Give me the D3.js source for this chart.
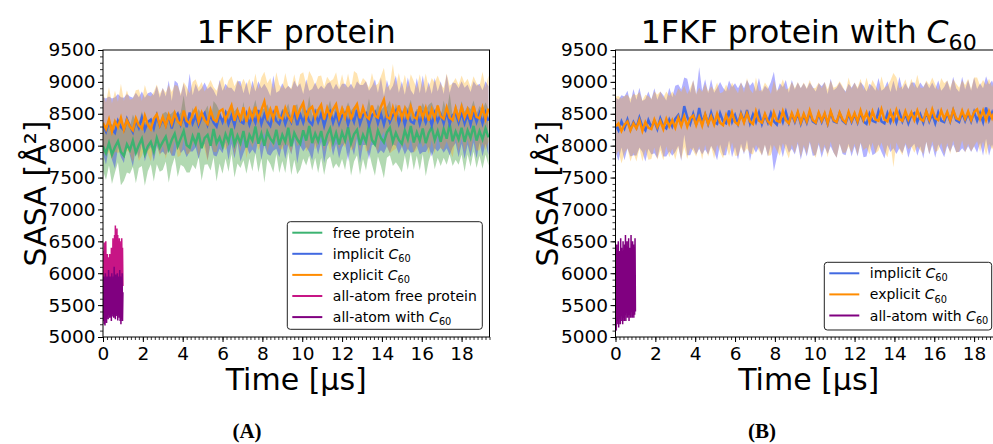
<!DOCTYPE html>
<html><head><meta charset="utf-8">
<script src="https://cdn.jsdelivr.net/npm/d3@7"></script>
<style>
body{margin:0;background:#fff}
svg{display:block}
</style>
</head><body>
<svg id="c" width="993" height="444"></svg>
<script>
// ---------- DATA ----------
const timeStep = 0.15;      // µs between coarse-grained frames
const aaTimeStep = 0.02;    // µs between all-atom frames
const xTicks = [0,2,4,6,8,10,12,14,16,18];
const yTicks = [5000,5500,6000,6500,7000,7500,8000,8500,9000,9500];

// Panel A : free protein
const freeMeanA = [7990,7880,8040,7860,7980,8070,7900,7840,8020,7930,8080,7890,8010,8110,7870,7990,8060,7910,8120,7970,
8060,8140,7950,8090,8190,7990,8110,8230,8010,7970,8150,8030,8200,7960,8120,8170,8000,8260,8040,8130,
7990,8180,8060,8270,8020,8160,8040,8230,7970,8170,8080,8300,8030,8190,8000,8220,8110,8050,8250,8010,
8170,8060,8280,7990,8200,8100,8030,8240,8080,8310,8040,8190,8070,8230,8000,8170,8270,8050,8200,8020,
8210,8080,8290,8040,8180,8250,8010,8170,8060,8320,8090,8020,8240,8120,8050,8210,8280,8060,8200,8090,
8030,8240,8100,8310,8050,8210,8080,8270,8040,8200,8290,8090,8230,8060,8260,8110,8340,8070,8220,8100,
8280,8060,8240,8120,8310,8080,8230,8100,8270,8130];
const freeStdA = [380,420,350,460,400,330,520,390,440,370,410,480,360,430,500,390,350,470,410,380,
440,390,530,420,370,480,410,560,430,390,450,400,380,510,420,460,390,440,600,410,
430,380,470,400,520,440,390,460,410,370,480,420,450,390,580,430,400,470,380,440,
410,490,380,450,420,550,400,440,390,470,430,380,500,420,460,390,440,410,480,370,
420,460,390,510,430,400,470,380,450,420,390,490,410,440,560,400,430,380,460,420,
450,390,480,410,430,370,470,400,520,440,390,460,420,380,450,410,480,390,440,400,
420,470,380,450,400,430,390,460,410,440];
const implicitMeanA = [8320,8220,8370,8260,8200,8390,8290,8240,8420,8310,8210,8400,8280,8440,8250,8370,8410,8270,8470,8310,
8410,8310,8480,8270,8430,8500,8330,8460,8290,8520,8350,8470,8320,8440,8510,8330,8480,8360,8300,8490,
8370,8510,8340,8470,8320,8530,8380,8350,8500,8330,8480,8360,8560,8340,8490,8380,8310,8510,8390,8340,
8500,8340,8480,8370,8550,8320,8490,8360,8510,8380,8330,8520,8370,8500,8310,8480,8540,8360,8500,8340,
8470,8510,8330,8490,8370,8560,8340,8480,8510,8320,8470,8530,8350,8500,8330,8510,8370,8480,8550,8350,
8500,8330,8510,8380,8350,8530,8340,8500,8360,8490,8320,8510,8380,8490,8350,8540,8340,8480,8510,8360,
8520,8350,8490,8330,8530,8370,8510,8350,8520,8390];
const implicitStdA = [440,520,400,480,560,420,470,510,390,460,540,430,480,410,500,450,430,520,470,440,
500,460,540,430,590,480,450,520,470,610,440,500,530,460,480,560,450,510,470,540,
490,460,570,440,520,480,630,470,500,460,540,490,450,560,480,510,470,590,440,520,
480,550,460,510,470,600,490,450,530,480,560,470,510,440,580,490,460,520,470,540,
500,460,580,480,520,450,610,470,500,540,460,510,480,570,450,520,490,460,550,480,
510,470,560,490,450,530,480,600,460,510,490,550,470,520,460,580,490,510,470,540,
490,560,470,510,480,570,460,520,490,540];
const explicitMeanA = [8360,8260,8410,8220,8380,8290,8440,8250,8400,8300,8240,8430,8320,8270,8470,8330,8260,8420,8490,8320,
8450,8310,8480,8340,8510,8380,8330,8550,8390,8350,8500,8580,8370,8520,8400,8340,8560,8410,8380,8540,
8570,8400,8520,8630,8390,8550,8420,8600,8370,8560,8430,8610,8410,8560,8690,8440,8570,8420,8620,8450,
8420,8590,8460,8390,8630,8450,8580,8670,8430,8570,8610,8440,8560,8640,8410,8590,8450,8570,8650,8430,
8580,8440,8620,8410,8570,8650,8430,8600,8460,8420,8630,8470,8440,8610,8720,8450,8420,8600,8440,8630,
8430,8580,8410,8610,8450,8420,8620,8440,8590,8390,8570,8430,8630,8460,8420,8600,8440,8400,8590,8430,
8610,8440,8570,8410,8620,8450,8430,8600,8420,8580];
const explicitStdA = [460,420,510,440,480,400,530,450,470,420,500,440,560,430,480,460,510,420,470,490,
450,520,470,500,440,560,480,450,530,470,500,460,540,480,450,590,470,510,480,450,
520,470,500,460,540,480,510,450,570,490,460,520,480,510,470,540,490,460,530,500,
480,550,470,510,490,460,540,480,520,600,470,500,530,460,510,490,560,470,500,480,
540,470,510,490,600,480,520,460,550,490,510,470,530,480,500,460,540,680,490,510,
470,530,490,510,560,480,500,470,540,520,490,560,470,510,480,530,500,580,470,520,
490,540,480,510,470,530,500,560,490,520];
const aaFreeA = [5700,6350,5800,6480,5650,6200,5900,6500,5750,6150,5850,6300,5700,6250,5900,6100,5800,6300,5950,6250,
5700,6400,5850,6200,5900,6550,5800,6450,5950,6600,5850,6750,6000,6500,5800,6700,5950,6600,5850,6450,
5700,6550,5900,6300,5800,6500,5750,6550,5900,6400,5800];
const aaC60A = [5600,5250,5950,5200,5900,5180,6000,5300,5850,5220,5950,5350,5900,5280,6050,5400,5880,5300,5950,5350,
5900,5250,6000,5320,5850,5380,5950,5300,6100,5350,5900,5280,5980,5400,5850,5330,6000,5260,5950,5350,
5900,5300,6050,5250,5950,5200,5900,5320,6000,5250,5700];

// Panel B : protein with C60
const implicitMeanB = [8330,8240,8380,8270,8410,8250,8370,8280,8440,8300,8240,8400,8290,8390,8260,8430,8310,8270,8410,8300,
8420,8480,8320,8620,8450,8340,8500,8330,8590,8360,8490,8340,8520,8370,8340,8510,8380,8350,8550,8370,
8480,8340,8510,8380,8560,8350,8490,8370,8520,8340,8480,8360,8510,8380,8330,8500,8370,8530,8360,8490,
8370,8510,8340,8480,8360,8520,8380,8350,8500,8370,8490,8340,8520,8380,8360,8510,8390,8350,8500,8370,
8490,8360,8520,8380,8340,8500,8390,8370,8540,8380,8350,8510,8370,8490,8360,8520,8380,8500,8350,8480,
8510,8370,8490,8360,8530,8380,8500,8350,8520,8390,8370,8510,8380,8550,8400,8370,8520,8390,8510,8380,
8530,8390,8510,8370,8600,8400,8520,8380,8550,8410];
const implicitStdB = [430,480,410,500,450,420,520,440,470,400,490,450,430,510,460,420,480,440,500,460,
520,480,560,450,600,490,530,470,640,500,550,480,520,460,570,490,530,500,470,550,
500,560,480,520,470,590,510,480,540,500,460,530,490,780,510,480,550,500,470,540,
510,480,560,500,530,470,540,500,480,560,510,470,530,490,550,480,520,500,470,540,
500,530,480,560,510,470,540,490,520,480,550,500,470,530,490,560,500,480,540,510,
480,530,500,560,470,520,490,540,500,470,550,510,480,530,500,470,560,490,520,480,
540,500,470,530,490,560,500,520,480,540];
const explicitMeanB = [8300,8350,8230,8330,8380,8240,8350,8270,8400,8230,8370,8280,8260,8410,8290,8390,8260,8420,8300,8400,
8280,8440,8310,8460,8300,8430,8470,8320,8450,8310,8490,8340,8460,8330,8500,8360,8320,8480,8350,8520,
8370,8330,8490,8360,8510,8380,8340,8540,8390,8360,8500,8380,8330,8520,8390,8370,8540,8400,8350,8510,
8390,8530,8360,8500,8380,8550,8400,8360,8520,8390,8510,8350,8540,8400,8370,8520,8410,8360,8530,8390,
8510,8380,8550,8400,8520,8370,8540,8410,8390,8570,8410,8380,8530,8400,8560,8420,8390,8540,8410,8520,
8400,8550,8420,8390,8540,8410,8570,8430,8400,8550,8420,8530,8390,8560,8430,8410,8550,8420,8540,8400,
8530,8570,8420,8550,8400,8540,8430,8560,8410,8550];
const explicitStdB = [470,430,510,450,420,490,460,520,440,480,430,500,470,440,510,460,490,430,480,450,
500,460,530,480,510,470,550,490,460,530,480,510,470,540,490,460,520,480,510,470,
530,490,510,470,550,500,480,530,470,510,490,540,480,510,470,530,500,480,550,490,
510,470,540,490,520,480,500,550,470,510,490,530,480,510,560,490,520,470,540,500,
480,530,500,470,550,510,490,530,470,520,500,560,490,740,510,480,540,500,470,530,
510,560,490,520,480,540,500,530,470,510,560,490,520,480,540,500,470,530,510,490,
540,500,520,480,550,510,490,530,500,520];
const aaC60B = [5300,6300,5100,6450,5200,6100,5250,6500,5150,6350,5300,6200,5200,6550,5250,6400,5350,6300,5200,6500,
5300,6150,5250,6450,5350,6600,5250,6300,5400,6500,5300,6200,5350,6550,5250,6400,5350,6300,5300,6600,
5400,6350,5300,6500,5350,6450,5300,6400,5350,6550,5400];

const legendLabelsA = ["free protein","implicit C_60","explicit C_60","all-atom free protein","all-atom with C_60"];
const legendLabelsB = ["implicit C_60","explicit C_60","all-atom with C_60"];
const titles = ["1FKF protein","1FKF protein with C_60"];

// ---------- STYLE ----------
const COL = {
  free:"#3cb371", freeBand:"green",
  impl:"#4169e1", implBand:"blue",
  expl:"#ff8c00", explBand:"orange",
  aaFree:"#c71585", aaC60:"#800080"
};
const FONT = "'DejaVu Sans', sans-serif";
const W = 386.5, H = 287;
const svg = d3.select("#c");

function rich(sel, str, fs) {
  const parts = str.split("C_60");
  sel.append("tspan").text(parts[0]);
  if (parts.length > 1) {
    sel.append("tspan").style("font-style","italic").text("C");
    sel.append("tspan").style("font-size", (fs*0.7)+"px").attr("dy", fs*0.22).text("60");
  }
}

function series(vals, step) { return vals.map((v,i)=>({t:i*step, v})); }
function bandSeries(m, s, step) { return m.map((v,i)=>({t:i*step, lo:v-s[i], hi:v+s[i]})); }

function panel(cfg) {
  const g = svg.append("g").attr("transform", `translate(${cfg.x0},50)`);
  const x = d3.scaleLinear().domain([0,19.4]).range([0,W]);
  const y = d3.scaleLinear().domain([5000,9500]).range([H,0]);
  const cid = "clip"+cfg.id;
  g.append("clipPath").attr("id",cid).append("rect").attr("width",W).attr("height",H);
  const pl = g.append("g").attr("clip-path",`url(#${cid})`);
  const area = d3.area().x(d=>x(d.t)).y0(d=>y(d.lo)).y1(d=>y(d.hi));
  const line = d3.line().x(d=>x(d.t)).y(d=>y(d.v));
  cfg.layers.forEach(L=>{
    if (L.type==="band") {
      pl.append("path").datum(bandSeries(L.m,L.s,timeStep)).attr("d",area)
        .attr("fill",L.color).attr("fill-opacity",0.3).attr("stroke","none");
    } else {
      pl.append("path").datum(series(L.v,L.step)).attr("d",line)
        .attr("fill","none").attr("stroke",L.color).attr("stroke-width",L.w);
    }
  });
  // minor ticks
  const yMinor = d3.range(5000,9501,100);
  const xMinor = d3.range(0,19.41,0.2);
  const ym = g.append("g").call(d3.axisLeft(y).tickValues(yMinor).tickSize(3).tickFormat(""));
  const xm = g.append("g").attr("transform",`translate(0,${H})`)
    .call(d3.axisBottom(x).tickValues(xMinor).tickSize(3).tickFormat(""));
  [ym,xm].forEach(a=>{a.select(".domain").remove(); a.selectAll("line").attr("stroke","#000").attr("stroke-width",0.8);});
  const ya = g.append("g").call(d3.axisLeft(y).tickValues(yTicks).tickSize(5).tickPadding(2.5).tickFormat(d3.format("d")));
  const xa = g.append("g").attr("transform",`translate(0,${H})`)
    .call(d3.axisBottom(x).tickValues(xTicks).tickSize(5).tickPadding(4.5).tickFormat(d3.format("d")));
  [ya,xa].forEach(a=>{
    a.select(".domain").remove();
    a.selectAll("line").attr("stroke","#000").attr("stroke-width",1);
    a.selectAll("text").style("font-size","18.5px").style("font-family",FONT).attr("fill","#000");
  });
  g.append("rect").attr("width",W).attr("height",H).attr("fill","none").attr("stroke","#000").attr("stroke-width",1);
  // title
  const tt = g.append("text").attr("x",W/2).attr("y",-7).attr("text-anchor","middle")
    .style("font-size","31.5px").style("font-family",FONT);
  rich(tt, cfg.title, 31.5);
  // axis labels
  g.append("text").attr("x",W/2).attr("y",H+53).attr("text-anchor","middle")
    .style("font-size","30px").style("font-family",FONT).text("Time [µs]");
  g.append("text").attr("transform",`translate(-68,${H/2}) rotate(-90)`).attr("text-anchor","middle")
    .attr("dominant-baseline","central").style("font-size","30px").style("font-family",FONT).text("SASA [Å²]");
  // legend
  const lg = cfg.legend;
  const lgG = g.append("g").attr("transform",`translate(${lg.x-cfg.x0},${lg.y-50})`);
  lgG.append("rect").attr("width",lg.w).attr("height",lg.h).attr("rx",3)
    .attr("fill","#fff").attr("fill-opacity",0.8).attr("stroke","#222").attr("stroke-width",1);
  lg.items.forEach((it,i)=>{
    const cy = 11 + i*21.1;
    lgG.append("line").attr("x1",5).attr("x2",35).attr("y1",cy).attr("y2",cy)
      .attr("stroke",it.color).attr("stroke-width",2);
    const t = lgG.append("text").attr("x",45.5).attr("y",cy).attr("dy","0.36em")
      .style("font-size","14px").style("font-family",FONT);
    rich(t, it.label, 14);
  });
  // caption
  svg.append("text").attr("x",cfg.cap.x).attr("y",438).attr("text-anchor","middle")
    .style("font-family","'Liberation Serif', 'DejaVu Serif', serif").style("font-weight","bold")
    .style("font-size","21px").text(cfg.cap.t);
}

panel({
  id:"A", x0:103, title:titles[0],
  layers:[
    {type:"band", m:freeMeanA, s:freeStdA, color:COL.freeBand},
    {type:"band", m:implicitMeanA, s:implicitStdA, color:COL.implBand},
    {type:"band", m:explicitMeanA, s:explicitStdA, color:COL.explBand},
    {type:"line", v:freeMeanA, step:timeStep, color:COL.free, w:2.4},
    {type:"line", v:implicitMeanA, step:timeStep, color:COL.impl, w:2.4},
    {type:"line", v:explicitMeanA, step:timeStep, color:COL.expl, w:2.4},
    {type:"line", v:aaFreeA, step:aaTimeStep, color:COL.aaFree, w:1.5},
    {type:"line", v:aaC60A, step:aaTimeStep, color:COL.aaC60, w:1.5}
  ],
  legend:{x:287.3, y:221.7, w:195, h:107.6,
    items:legendLabelsA.map((l,i)=>({label:l, color:[COL.free,COL.impl,COL.expl,COL.aaFree,COL.aaC60][i]}))},
  cap:{x:247, t:"(A)"}
});
panel({
  id:"B", x0:615.5, title:titles[1],
  layers:[
    {type:"band", m:implicitMeanB, s:implicitStdB, color:COL.implBand},
    {type:"band", m:explicitMeanB, s:explicitStdB, color:COL.explBand},
    {type:"line", v:implicitMeanB, step:timeStep, color:COL.impl, w:2.4},
    {type:"line", v:explicitMeanB, step:timeStep, color:COL.expl, w:2.4},
    {type:"line", v:aaC60B, step:aaTimeStep, color:COL.aaC60, w:1.5}
  ],
  legend:{x:824.3, y:262.3, w:167.4, h:67.7,
    items:legendLabelsB.map((l,i)=>({label:l, color:[COL.impl,COL.expl,COL.aaC60][i]}))},
  cap:{x:762, t:"(B)"}
});
</script>
</body></html>
